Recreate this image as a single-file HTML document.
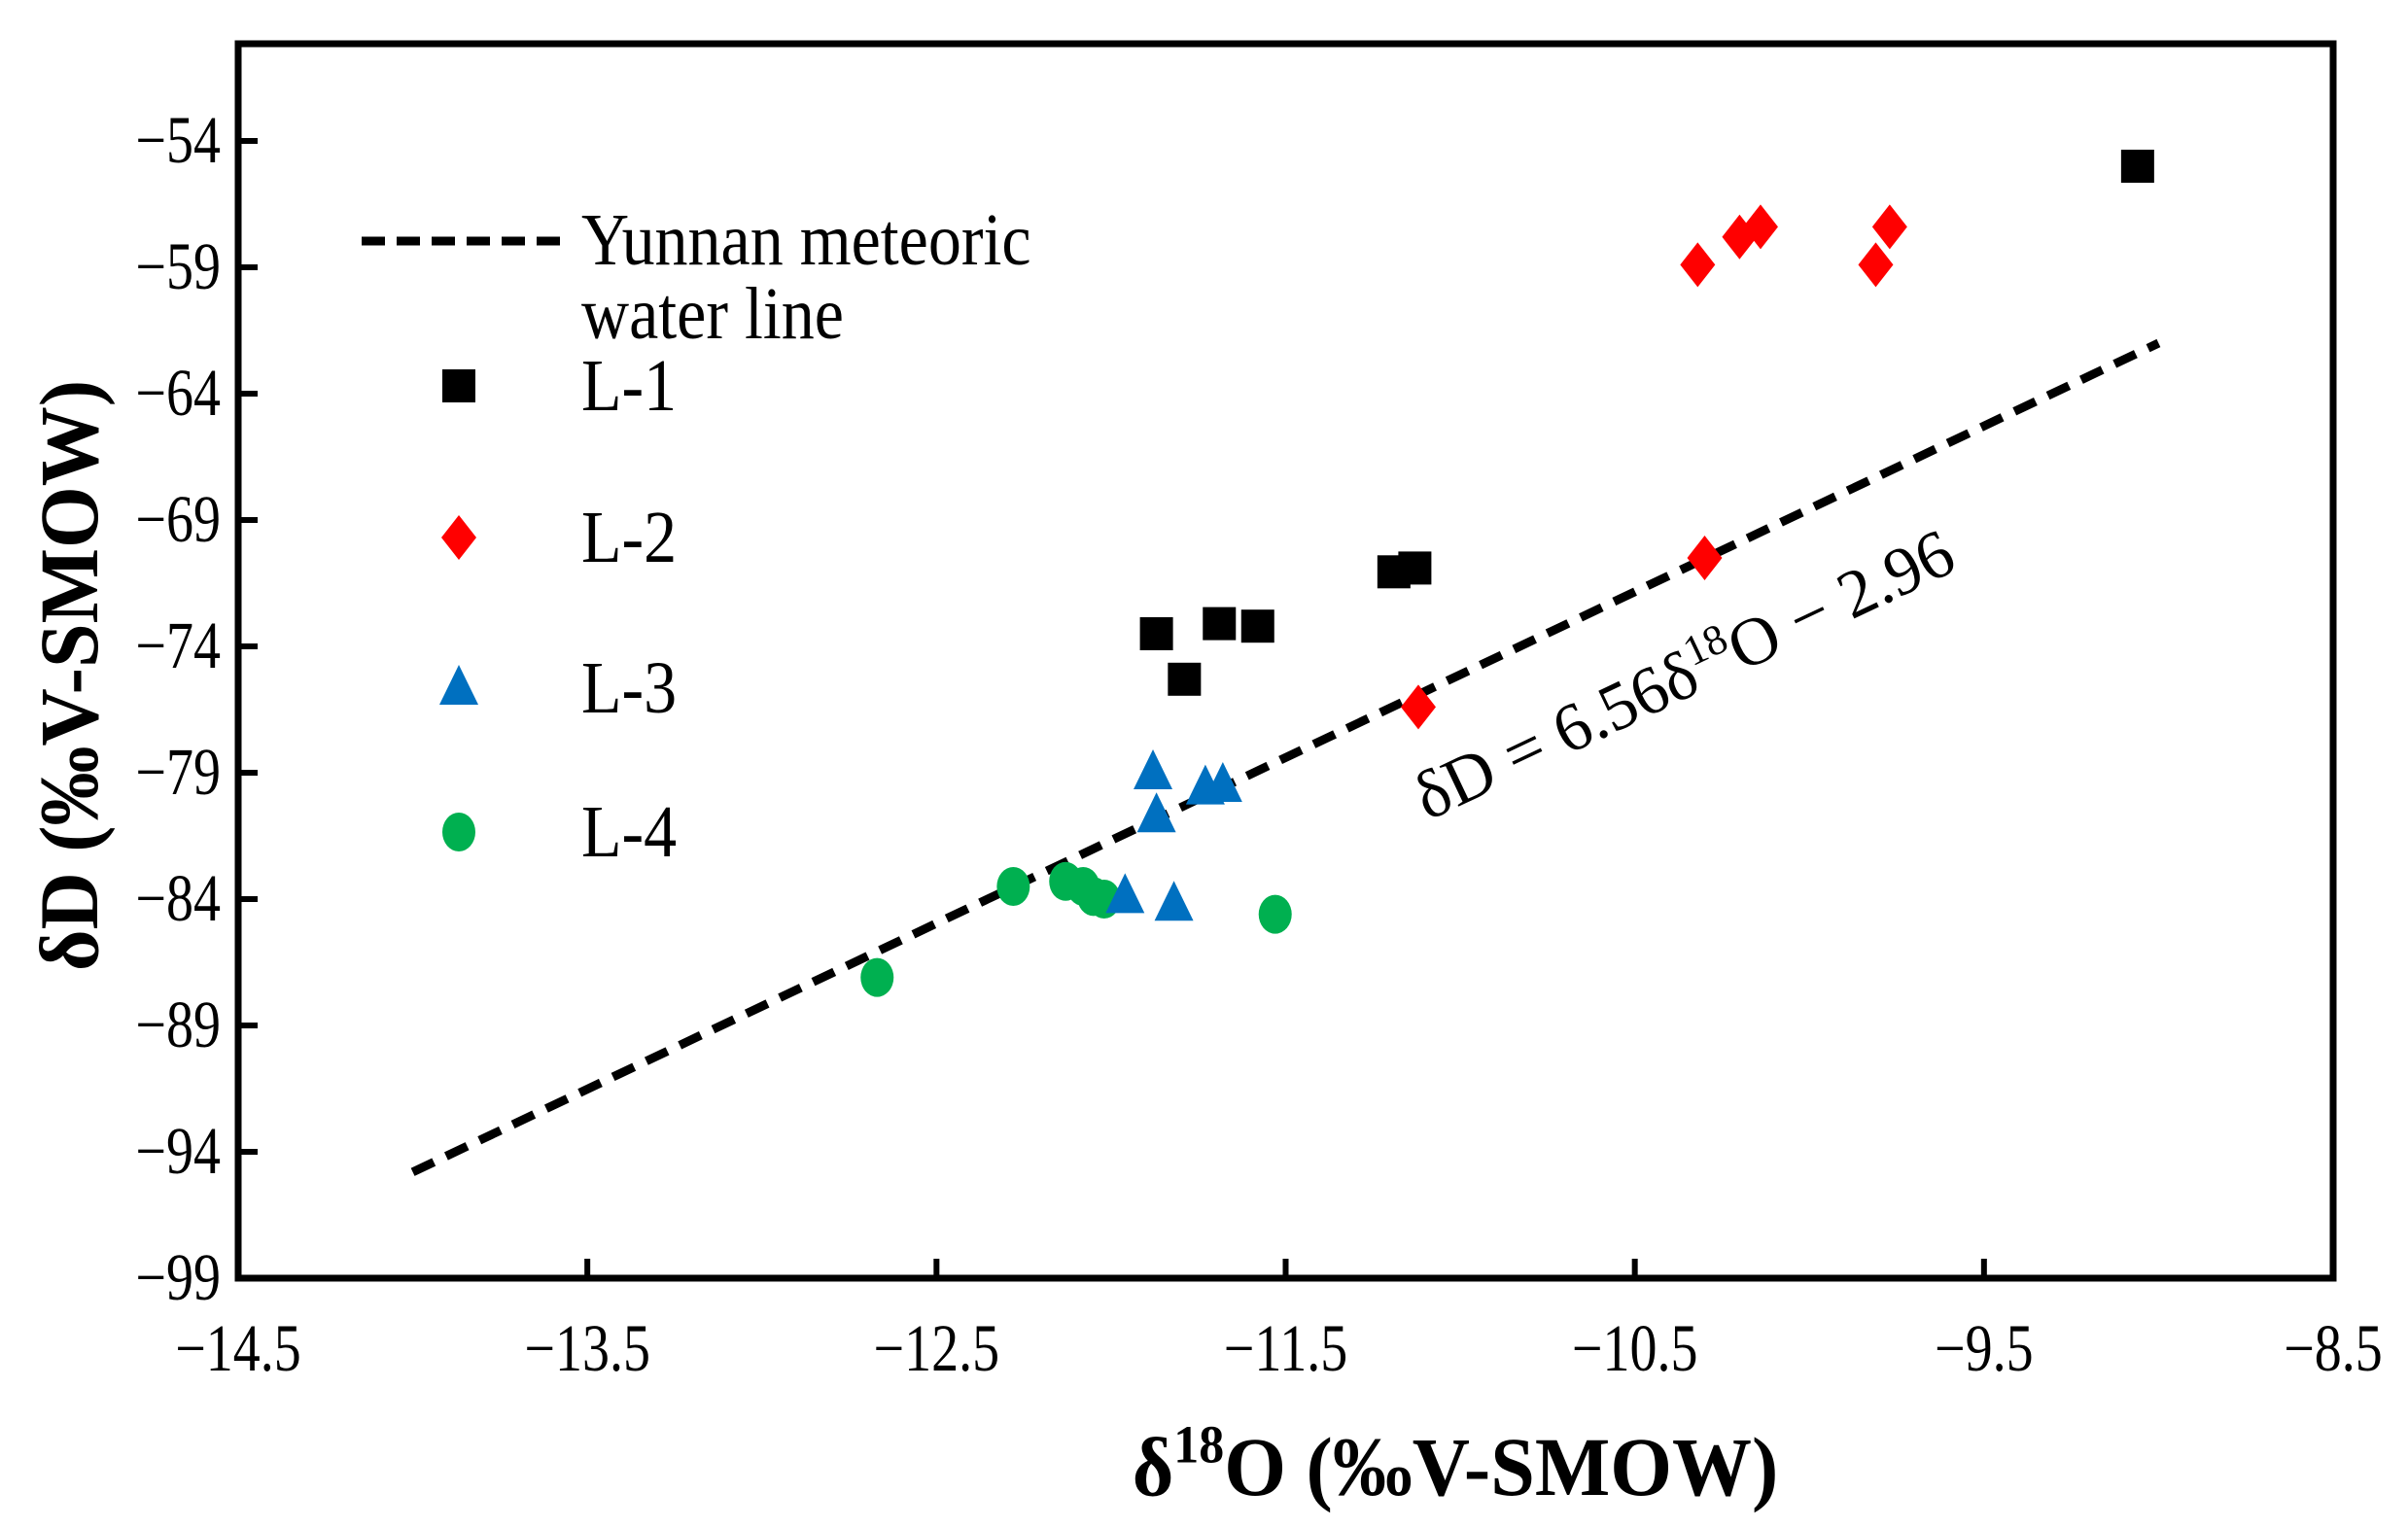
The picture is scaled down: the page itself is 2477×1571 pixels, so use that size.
<!DOCTYPE html>
<html><head><meta charset="utf-8"><style>
html,body{margin:0;padding:0;background:#fff;}
svg{display:block;font-family:"Liberation Serif","DejaVu Serif",serif;}
</style></head><body>
<svg id="chart" width="2477" height="1571" viewBox="0 0 2477 1571" xmlns="http://www.w3.org/2000/svg">
<rect width="2477" height="1571" fill="#fff"/>
<g id="plot"></g>
</svg>
<script>
const xTicks = [-14.5, -13.5, -12.5, -11.5, -10.5, -9.5, -8.5];
const yTicks = [-54, -59, -64, -69, -74, -79, -84, -89, -94, -99];
const l1X = [-9.06, -11.19, -11.13, -11.87, -11.69, -11.58, -11.79];
const l1Y = [-55.0, -71.05, -70.9, -73.5, -73.1, -73.2, -75.3];
const l2X = [-10.32, -10.2, -10.14, -9.81, -9.77, -10.3, -11.12];
const l2Y = [-58.9, -57.8, -57.4, -58.9, -57.4, -70.5, -76.4];
const l3X = [-11.88, -11.87, -11.73, -11.68, -11.96, -11.82];
const l3Y = [-79.0, -80.7, -79.6, -79.5, -83.9, -84.2];
const l4X = [-12.67, -12.28, -12.13, -12.08, -12.05, -12.02, -11.53];
const l4Y = [-87.1, -83.5, -83.3, -83.5, -83.9, -84.0, -84.6];
const lineSlope = 6.56;
const lineIntercept = -2.96;
const lineRange = [-14.0, -9.0];

const NS = 'http://www.w3.org/2000/svg';
const L = 245, R = 2400, T = 45, B = 1315;
const xMin = -14.5, xMax = -8.5;
const yAt99 = 1315, yAt54 = 145;
function sx(v){ return L + (v - xMin) / (xMax - xMin) * (R - L); }
function sy(v){ return yAt99 - (v - (-99)) / 45 * (yAt99 - yAt54); }
const g = document.getElementById('plot');
function mk(tag, attrs, parent){
  const e = document.createElementNS(NS, tag);
  for (const k in attrs) e.setAttribute(k, attrs[k]);
  (parent || g).appendChild(e);
  return e;
}

const frame = mk('rect', {x:L, y:T, width:R-L, height:B-T, fill:'none', stroke:'#000', 'stroke-width':7});



xTicks.forEach(v => {
  const t = mk('line', {x1:sx(v), x2:sx(v), y1:B, y2:B-20, stroke:'#000', 'stroke-width':6});
  
  
  const lb = mk('text', {x:0, y:0, 'font-size':56, 'text-anchor':'middle', fill:'#000',
    transform:`translate(${sx(v)},${B+95}) scale(1,1.22)`});
  lb.textContent = '\u2212' + Math.abs(v).toFixed(1);
  
  
});
yTicks.forEach(v => {
  const t = mk('line', {x1:L, x2:L+20, y1:sy(v), y2:sy(v), stroke:'#000', 'stroke-width':6});
  
  
  const lb = mk('text', {x:0, y:0, 'font-size':56, 'text-anchor':'end', fill:'#000',
    transform:`translate(${L-18},${sy(v)+22}) scale(1,1.22)`});
  lb.textContent = '\u2212' + Math.abs(v);
  
  
});

const ln = mk('line', {
  x1:sx(lineRange[0]), y1:sy(lineSlope*lineRange[0]+lineIntercept),
  x2:sx(lineRange[1]), y2:sy(lineSlope*lineRange[1]+lineIntercept),
  stroke:'#000', 'stroke-width':9, 'stroke-dasharray':'24 14'});



const eq = mk('text', {x:0, y:0, 'font-size':70, fill:'#000', 'text-anchor':'middle',
  transform:'translate(1742,715) rotate(-25.4)'});


eq.innerHTML = '\u03b4D = 6.56\u03b4<tspan dy="-27" font-size="44">18</tspan><tspan dy="27">O \u2212 2.96</tspan>';

function square(cx, cy, parent){ return mk('rect', {x:cx-17, y:cy-17, width:34, height:34, fill:'#000'}, parent); }
function diamond(cx, cy, parent){ return mk('polygon', {points:`${cx},${cy-23} ${cx+18},${cy} ${cx},${cy+23} ${cx-18},${cy}`, fill:'#ff0000'}, parent); }
function tri(cx, cy, parent){ return mk('polygon', {points:`${cx},${cy-24} ${cx+20},${cy+17} ${cx-20},${cy+17}`, fill:'#0070c0'}, parent); }
function circ(cx, cy, parent){ return mk('ellipse', {cx:cx, cy:cy, rx:17, ry:20, fill:'#00b050'}, parent); }

l4X.forEach((v,i) => { const m = circ(sx(v), sy(l4Y[i]));
    });
l3X.forEach((v,i) => { const m = tri(sx(v), sy(l3Y[i]));
    });
l2X.forEach((v,i) => { const m = diamond(sx(v), sy(l2Y[i]));
    });
l1X.forEach((v,i) => { const m = square(sx(v), sy(l1Y[i]));
    });

const lg = mk('g', {});


const ld = mk('line', {x1:372, x2:585, y1:248, y2:248, stroke:'#000', 'stroke-width':9, 'stroke-dasharray':'24 12'}, lg);


const t1 = mk('text', {x:0, y:0, 'font-size':68, fill:'#000', transform:'translate(598,272) scale(1,1.12)'}, lg);
t1.textContent = 'Yunnan meteoric';


const t2 = mk('text', {x:0, y:0, 'font-size':68, fill:'#000', transform:'translate(598,348) scale(1,1.12)'}, lg);
t2.textContent = 'water line';


const legendRows = [['L-1',397,square],['L-2',553,diamond],['L-3',708,tri],['L-4',856,circ]];
legendRows.forEach(r => {
  const m = r[2](472, r[1], lg);
  
  
  const t = mk('text', {x:0, y:0, 'font-size':68, fill:'#000', transform:`translate(598,${r[1]+25}) scale(1,1.12)`}, lg);
  t.textContent = r[0];
  
  
});

const xt = mk('text', {x:0, y:0, 'font-size':82, 'font-weight':'bold', 'text-anchor':'middle', fill:'#000',
  transform:'translate(1497,1538) scale(1,1.05)'});
xt.innerHTML = '\u03b4<tspan dy="-32" font-size="52">18</tspan><tspan dy="32">O (\u2030V-SMOW)</tspan>';


const yt = mk('text', {x:0, y:0, 'font-size':82, 'font-weight':'bold', 'text-anchor':'middle', fill:'#000',
  transform:'translate(100,695) rotate(-90) scale(1,1.05)'});
yt.textContent = '\u03b4D (\u2030V-SMOW)';


</script>
</body></html>
